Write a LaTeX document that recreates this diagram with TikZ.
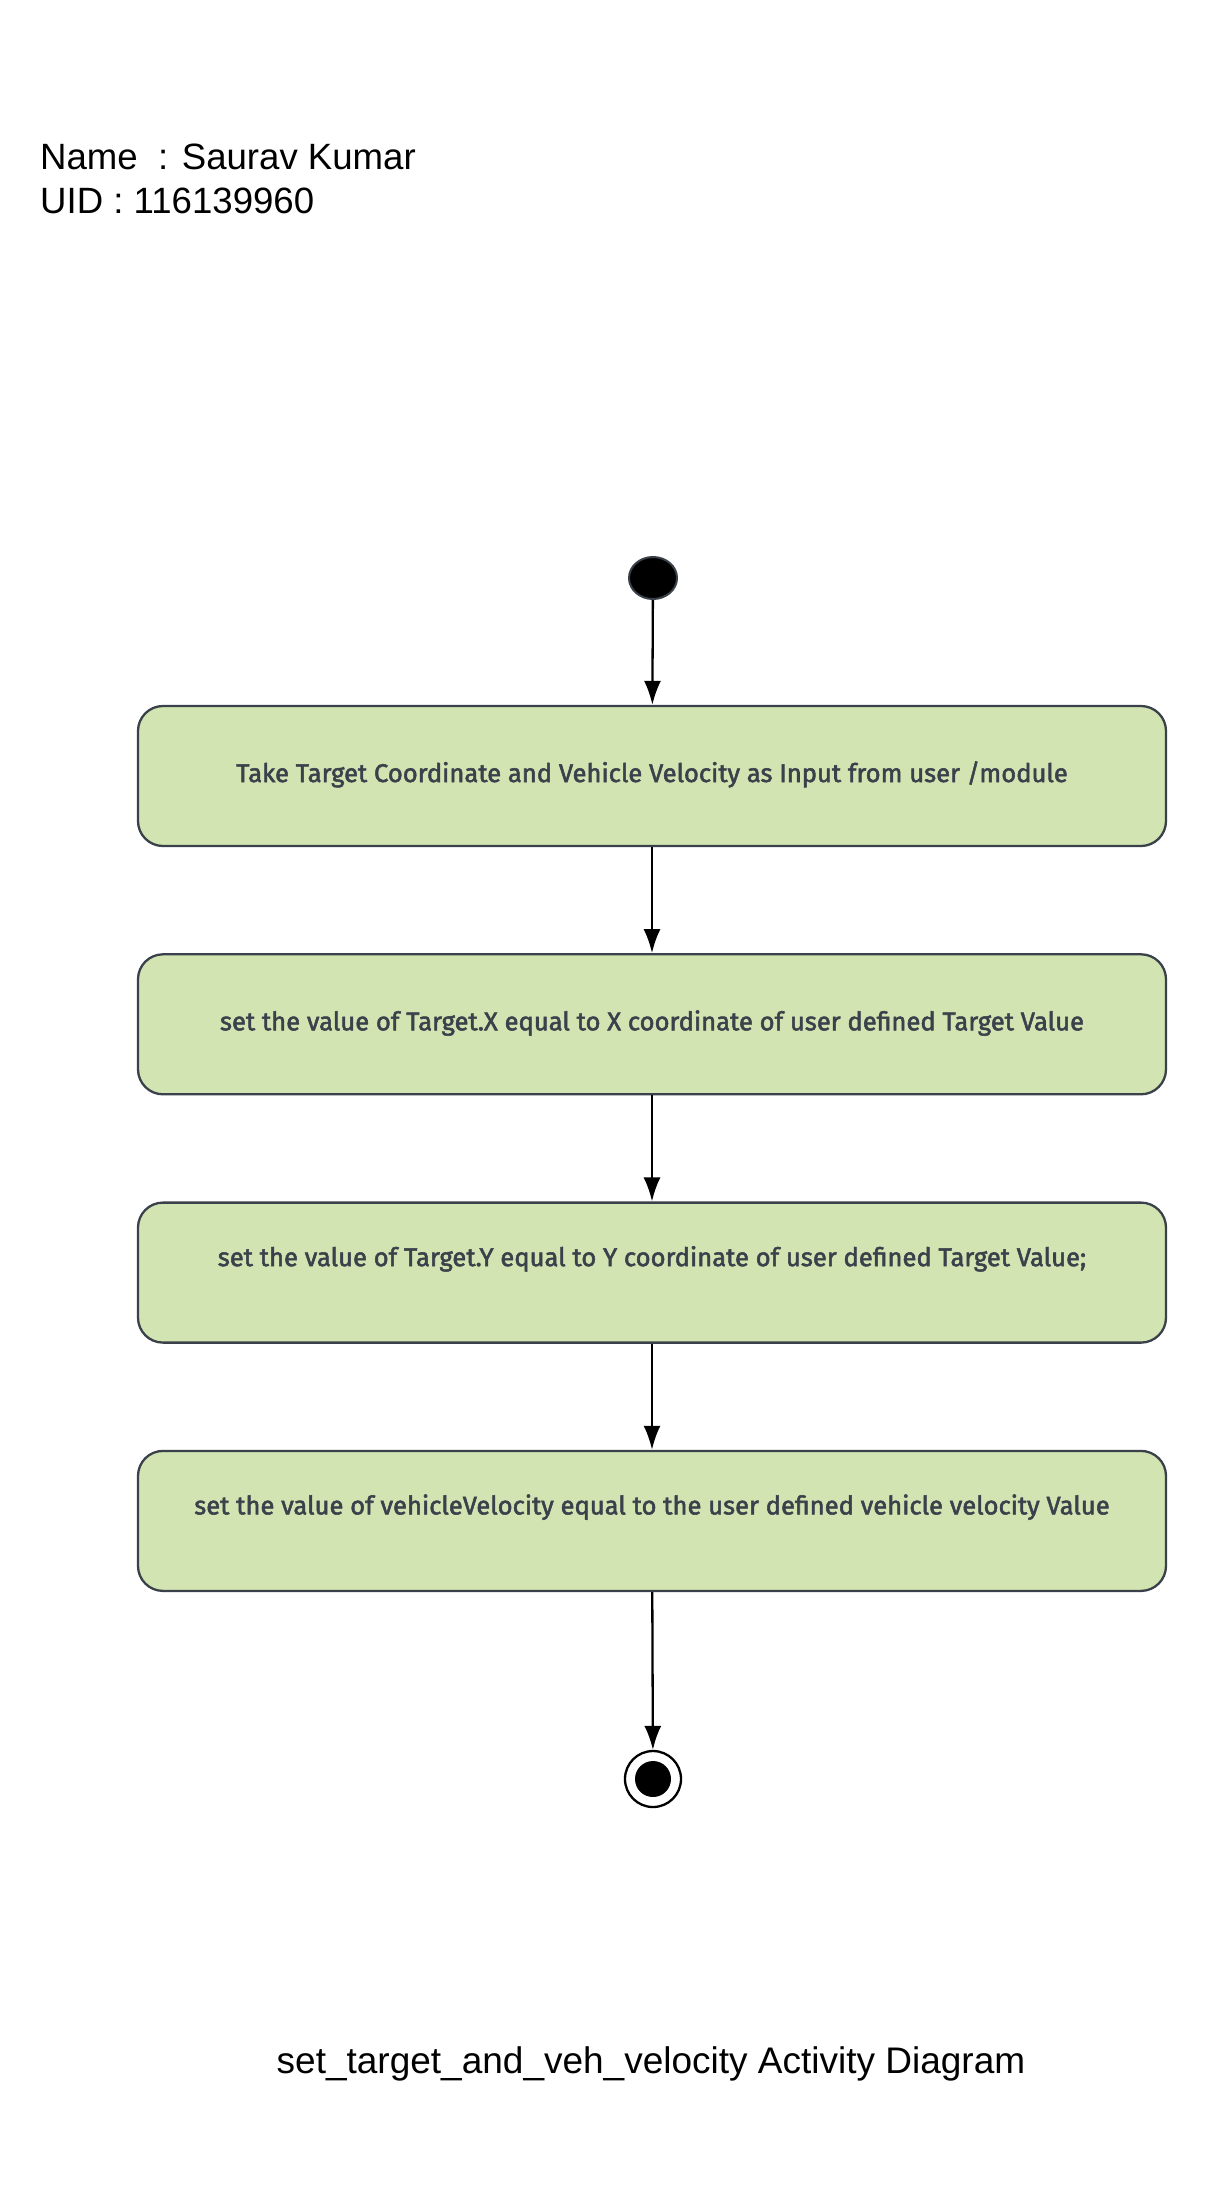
\documentclass[tikz,border=0pt]{standalone}
\usepackage{fontspec}
\setmainfont{Liberation Sans}
\newfontfamily\boxfont{Fira Sans}[UprightFeatures={FakeBold=2}]
\usetikzlibrary{arrows.meta,shapes,positioning}

\definecolor{actfill}{HTML}{D2E4B2}
\definecolor{actline}{HTML}{3A414A}

\begin{document}
\begin{tikzpicture}[x=1pt,y=-1pt,
  activity/.style={draw=actline,fill=actfill,line width=2.3pt,rounded corners=25pt,
    minimum width=1028pt,minimum height=140pt,inner sep=0pt,
    font=\boxfont\fontsize{25.6}{30}\selectfont,text=actline,text height=18pt,text depth=6pt},
  lifted/.style={text depth=31pt},
  flow/.style={-{Latex[length=24pt,width=17pt]},line width=2.3pt}]
  % page frame, same size as the reference
  \useasboundingbox (0,0) rectangle (1206,2212);

  % student details, top left
  \node[anchor=base west,font=\fontsize{36.6}{45}\selectfont,inner sep=0pt] (name) at (40,169) {Name\ \ : Saurav Kumar};
  \node[anchor=base west,font=\fontsize{36.6}{45}\selectfont,inner sep=0pt] (uid) at (40,213) {UID : 116139960};

  % initial node
  \node[ellipse,fill=black,draw=actline,line width=2pt,minimum width=48pt,minimum height=42pt,inner sep=0pt] (start) at (653,578) {};

  % the four actions, stacked
  \node[activity] (act1) at (652,776) {Take Target Coordinate and Vehicle Velocity as Input from user /module};
  \node[activity,below=106pt of act1] (act2) {set the value of Target.X equal to X coordinate of user defined Target Value};
  \node[activity,lifted,below=106pt of act2] (act3) {set the value of Target.Y equal to Y coordinate of user defined Target Value;};
  \node[activity,lifted,below=106pt of act3] (act4) {set the value of vehicleVelocity equal to the user defined vehicle velocity Value};

  % final node
  \node[circle,draw=black,line width=2.3pt,minimum size=56pt,inner sep=0pt] (stop) at (653,1779) {};
  \node[circle,fill=black,minimum size=36pt,inner sep=0pt] (stopdot) at (stop.center) {};

  % control flow
  \draw[flow] (start) -- (act1);
  \foreach \a/\b in {act1/act2,act2/act3,act3/act4,act4/stop}
    \draw[flow] (\a) -- (\b);

  % diagram title
  \node[anchor=base,font=\fontsize{37}{44}\selectfont,inner sep=0pt] (title) at (651,2073) {set\_target\_and\_veh\_velocity Activity Diagram};
\end{tikzpicture}
\end{document}
